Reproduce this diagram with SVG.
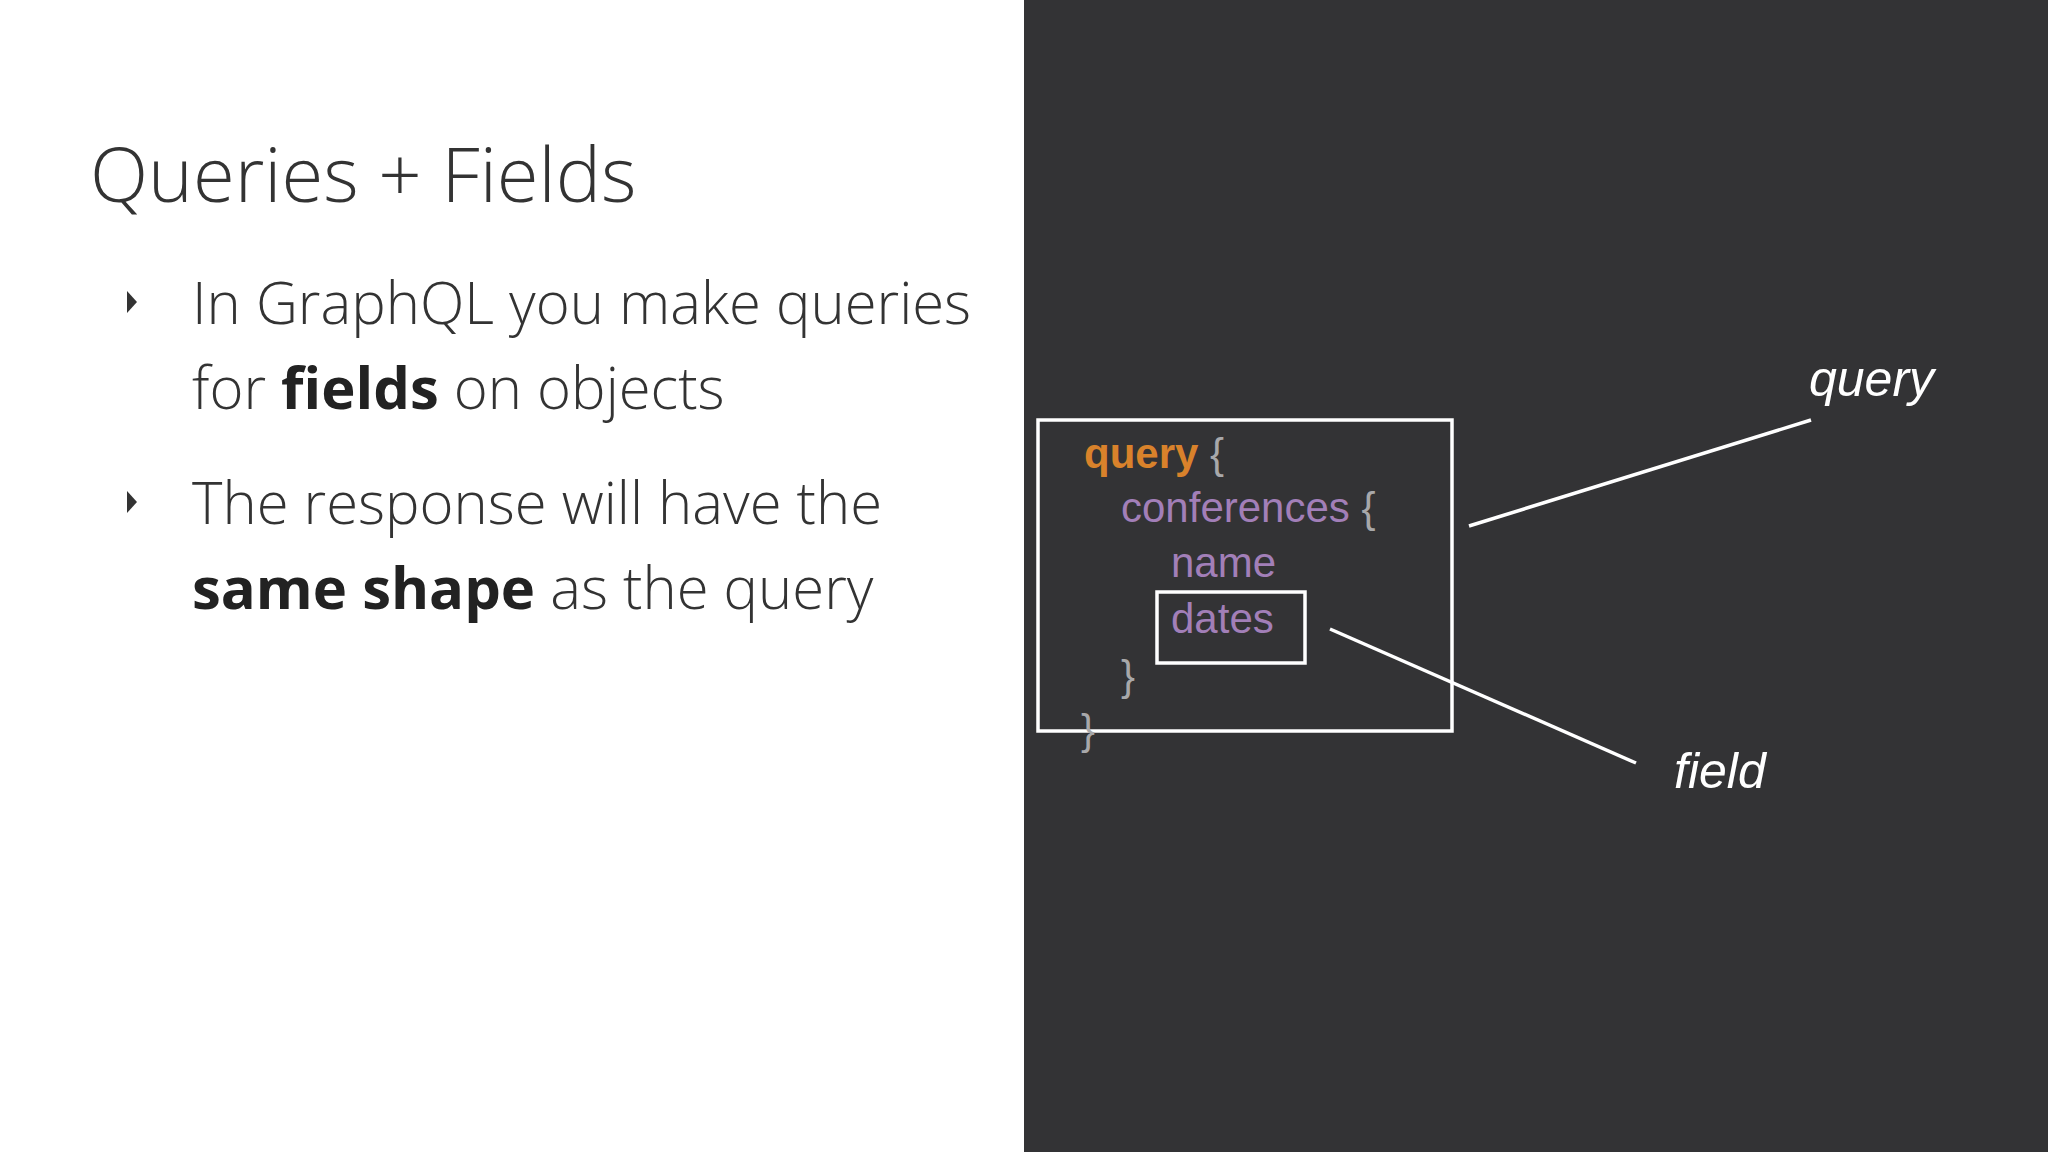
<svg xmlns="http://www.w3.org/2000/svg" width="2048" height="1152" viewBox="0 0 2048 1152">
<style>
.t{font-family:"Open Sans","Noto Sans",sans-serif;font-weight:300;fill:#333;}
.b{font-weight:700;fill:#222;}
.c{font-family:"Liberation Sans",Arial,sans-serif;font-size:42px;}
.br{fill:#a8a8aa;}
.p{fill:#a27fb8;}
.h{font-family:"Liberation Sans",sans-serif;font-size:50px;fill:#fff;font-style:italic;}
.ln{stroke:#fff;stroke-width:3.5;fill:none;}
</style>
<rect width="2048" height="1152" fill="#fff"/>
<rect x="1024" y="0" width="1024" height="1152" fill="#333335"/>
<g id="title"><text class="t" x="90" y="202" font-size="76">Queries + Fields</text></g>
<g id="bullets">
<path d="M127 291 L137 302 L127 313 Z" fill="#333"/>
<path d="M127 491 L137 502 L127 513 Z" fill="#333"/>
<text class="t" x="192" y="324" font-size="58">In GraphQL you make queries</text>
<text class="t" x="192" y="409" font-size="58">for <tspan class="b">fields</tspan> on objects</text>
<text class="t" x="192" y="524" font-size="58">The response will have the</text>
<text class="t" x="192" y="609" font-size="58"><tspan class="b">same shape</tspan> as the query</text>
</g>
<g id="code">
<rect class="ln" x="1038" y="420" width="414" height="311"/>
<text class="c" x="1084" y="468"><tspan fill="#d9822b" font-weight="700">query</tspan><tspan class="br"> {</tspan></text>
<text class="c" x="1121" y="522"><tspan class="p">conferences</tspan><tspan class="br"> {</tspan></text>
<text class="c p" x="1171" y="577">name</text>
<g id="field-box"><rect class="ln" x="1157" y="592" width="148" height="71"/>
<text class="c p" x="1171" y="633">dates</text></g>
<text class="c br" x="1121" y="690">}</text>
<text class="c br" x="1081" y="744">}</text>
</g>
<g id="connectors">
<line class="ln" x1="1469" y1="526" x2="1811" y2="420"/>
<line class="ln" x1="1330" y1="629" x2="1636" y2="763"/>
</g>
<g id="labels">
<text class="h" x="1809" y="396">query</text>
<text class="h" x="1674" y="788">field</text>
</g>
</svg>
